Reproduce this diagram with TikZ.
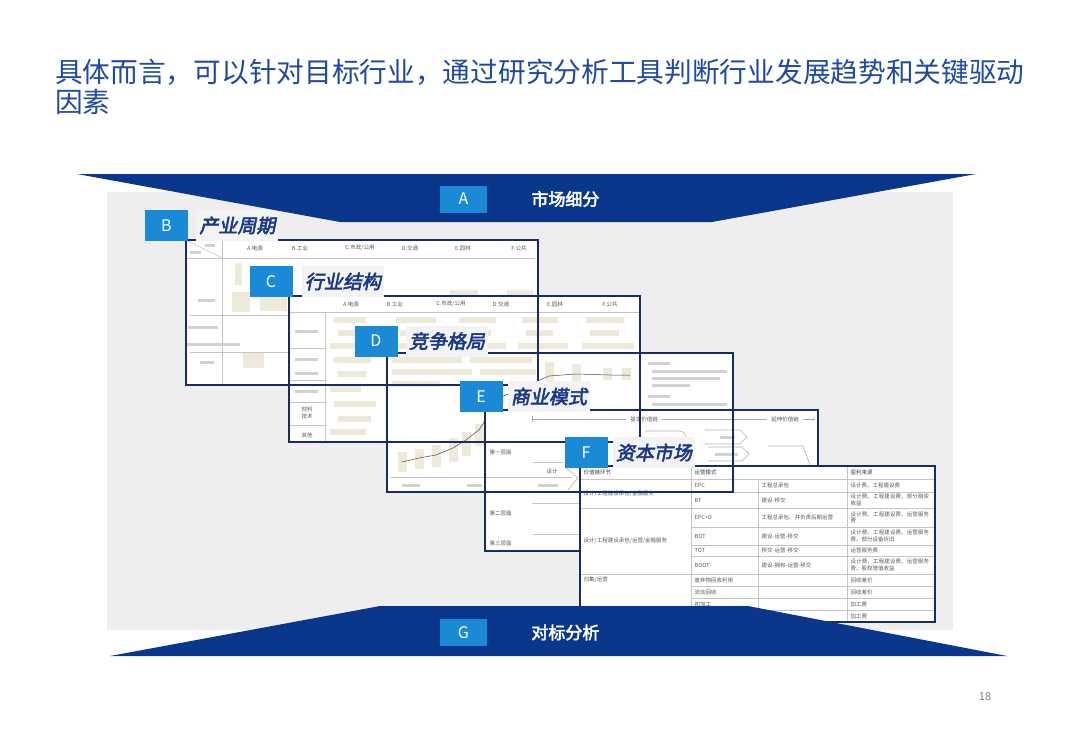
\documentclass[tikz,border=0pt]{standalone}
\usepackage{fontspec}
\setmainfont{Noto Sans CJK SC}[AutoFakeBold=3,AutoFakeSlant=0.2]
\XeTeXlinebreaklocale "zh"
\XeTeXlinebreakskip=0pt plus 1pt
\usetikzlibrary{arrows, shapes, positioning}

\definecolor{bannerblue}{RGB}{10,54,140}
\definecolor{tagblue}{RGB}{26,138,214}
\definecolor{titleblue}{RGB}{32,74,160}
\definecolor{labelblue}{RGB}{26,56,134}
\definecolor{labelbg}{RGB}{243,243,243}
\definecolor{framenavy}{RGB}{24,44,104}
\definecolor{bggray}{RGB}{238,238,238}
\definecolor{beige}{RGB}{238,234,217}
\definecolor{gridgray}{RGB}{196,196,196}

\tikzset{
  titletext/.style={anchor=base west, inner sep=0pt, text=titleblue, font=\fontsize{27.7}{28}\selectfont},
  tagbox/.style={fill=tagblue, text=white, minimum width=43pt, minimum height=31pt, inner sep=0pt, font=\fontsize{16}{16}\selectfont},
  tagtext/.style={fill=labelbg, text=labelblue, minimum height=31pt, inner xsep=3pt, inner ysep=0pt, font=\fontsize{19}{19}\selectfont\bfseries\itshape},
  bannertext/.style={text=white, inner sep=0pt, font=\fontsize{17}{17}\selectfont\bfseries},
  sheet/.style={fill=white},
  sheetframe/.style={draw=framenavy, line width=1.1pt},
  thinrule/.style={draw=gridgray, line width=0.5pt},
  note/.style={fill=beige},
  blob/.style={fill=gray!35},
  smalltxt/.style={text=gray!70!black, inner sep=0.5pt, font=\fontsize{5.5}{6.5}\selectfont},
}

\begin{document}
\begin{tikzpicture}[x=1pt, y=-1pt]
  \useasboundingbox (0,0) rectangle (1080,748);
  \fill[white] (0,0) rectangle (1080,748);

  % Title
  \node[titletext] (title1) at (55,82) {具体而言，可以针对目标行业，通过研究分析工具判断行业发展趋势和关键驱动};
  \node[titletext] (title2) at (55,112) {因素};

  % Backdrop
  \fill[bggray] (107,192) rectangle (953,630);

  % Sheet B
  \fill[sheet] (186,240) rectangle (538,385);
  \draw[thinrule] (186,240) -- (222,258);
  \draw[thinrule] (222,240) -- (222,385);
  \draw[thinrule] (186,258) -- (535,258);
  \draw[thinrule] (190,315) -- (289,315);
  \draw[thinrule] (190,352) -- (289,352);
  \foreach \x/\t [count=\i] in {255/A.电源, 300/B.工业, 360/{C.市政/公用}, 410/D.交通, 463/E.园林, 519/F.公共}
    \node[smalltxt] (bh\i) at (\x,248) {\t};
  \foreach \xa/\ya/\xb/\yb in {205/244/215/247, 190/251/201/254, 198/299/215/302, 188/326/218/329, 186/343/240/346, 200/361/214/364}
    \fill[blob] (\xa,\ya) rectangle (\xb,\yb);
  \foreach \xa/\ya/\xb/\yb in {235/263/242/285, 232/292/250/312, 260/297/287/311, 243/353/264/368, 337/290/373/297, 450/290/478/297, 507/290/533/297}
    \fill[note] (\xa,\ya) rectangle (\xb,\yb);

  % Sheet C
  \fill[sheet] (289,296) rectangle (640,442);
  \draw[thinrule] (289,312) -- (640,312);
  \draw[thinrule] (325,312) -- (325,442);
  \foreach \y in {348,380,402,425} \draw[thinrule] (289,\y) -- (325,\y);
  \foreach \x/\t [count=\i] in {351/A.电源, 395/B.工业, 451/{C.市政/公用}, 501/D.交通, 555/E.园林, 610/F.公共}
    \node[smalltxt] (ch\i) at (\x,304) {\t};
  \foreach \y [count=\r] in {320,333,346,360,374,389,404,419,432}
    \foreach \xa/\xb in {330/376, 392/446, 455/506, 518/568, 582/634}
      \fill[note] ({\xa+mod(\r,3)*4},\y-3) rectangle ({\xb-mod(\r+1,4)*5},\y+3);
  \foreach \y in {330,358,372,390} \fill[blob] (295,\y) rectangle (318,\y+3);
  \node[smalltxt, align=center] (cmat) at (307,413) {材料\\技术};
  \node[smalltxt] (coth) at (307,435) {其他};

  % Sheet D
  \fill[sheet] (387,353) rectangle (733,492);
  \foreach \xa/\ya/\xb/\yb in {392/357/462/363, 470/357/532/363, 392/369/472/375, 480/369/536/375, 392/381/440/387}
    \fill[note] (\xa,\ya) rectangle (\xb,\yb);
  \foreach \x/\y/\h in {398/452/20, 415/449/20, 432/445/22, 449/438/24, 462/432/24, 475/424/22, 495/385/20, 545/362/20, 572/364/22, 603/368/12, 622/368/12}
    \fill[note] (\x,\y) rectangle ++(9,\h);
  \draw[gray!60!black, line width=0.5pt] (402,462) -- (419,458) -- (436,455) -- (453,448) -- (466,440) -- (479,430) -- (499,398) -- (549,376) -- (576,374) -- (610,375) -- (630,375);
  \foreach \xa/\ya/\xb in {648/362/670, 652/370/727, 652/377/720, 652/384/690, 648/395/670, 652/403/727}
    \fill[blob] (\xa,\ya) rectangle (\xb,\ya+3);
  \draw[thinrule] (390,477) -- (485,477);
  \foreach \xa/\xb in {402/420, 467/482} \fill[blob] (\xa,484) rectangle (\xb,487);

  % Sheet E
  \fill[sheet] (485,410) rectangle (818,551);
  \coordinate (chainL) at (532,419);
  \coordinate (chainR) at (815,419);
  \draw[|->, gray!70, line width=0.5pt] (chainL) -- (chainR);
  \node[smalltxt, fill=white, inner xsep=4pt] (basic) at (644,419) {基本价值链};
  \node[smalltxt, fill=white, inner xsep=4pt] (extend) at (785,419) {延伸价值链};
  \node[smalltxt, anchor=west] (lvl1) at (489,452) {第一层面};
  \node[smalltxt, anchor=west] (lvl2) at (489,513) {第二层面};
  \node[smalltxt, anchor=west] (lvl3) at (489,543) {第三层面};
  \draw[thinrule] (533,462) -- (563,462);
  \draw[thinrule] (532,503) -- (580,503);
  \draw[thinrule] (533,534) -- (580,534);
  \draw[thinrule] (485,477) -- (572,477);
  \draw[gray!60, line width=0.6pt] (565,467) -- (578,478) -- (568,490);
  \node[smalltxt] (design) at (552,471) {设计};
  \fill[blob] (538,484) rectangle (558,487);
  \draw[gray!60, line width=0.6pt] (645,431) -- (680,431) to[out=0, in=120] (688,441);
  \draw[gray!60, line width=0.6pt] (705,430) -- (740,430) -- (747,437) -- (740,444) -- (705,444);
  \draw[gray!60, line width=0.6pt] (708,447) -- (742,447) -- (749,454) -- (742,461) -- (708,461);
  \fill[blob] (720,436) rectangle (735,439);
  \fill[blob] (715,453) rectangle (738,456);
  \draw[gray!60, line width=0.6pt] (768,446) -- (803,446) -- (810,465);
  \draw[sheetframe] (485,410) rectangle (818,551);

  % Sheet F
  \fill[sheet] (580,466) rectangle (935,622);
  \foreach \y in {492,527,545,556,586,598,610} \draw[thinrule] (691,\y) -- (935,\y);
  \foreach \y in {479,508,574} \draw[thinrule] (580,\y) -- (935,\y);
  \draw[thinrule] (691,466) -- (691,622);
  \draw[thinrule] (758,479) -- (758,622);
  \draw[thinrule] (847,466) -- (847,622);
  \node[smalltxt, anchor=west, text=black!75] (fh1) at (583,472.5) {价值链环节};
  \node[smalltxt, anchor=west, text=black!75] (fh2) at (694,472.5) {运营模式};
  \node[smalltxt, anchor=west, text=black!75] (fh3) at (850,472.5) {盈利来源};
  \node[smalltxt, anchor=west] (fv1) at (583,493.5) {设计/工程建设承包/金融服务};
  \node[smalltxt, anchor=west, text width=84pt, align=left] (fv2) at (583,541) {设计/工程建设承包/运营/金融服务};
  \node[smalltxt, anchor=west] (fv3) at (583,580) {归集/运营};
  \foreach \y/\t [count=\i] in {485.5/EPC, 500/BT, 517.5/EPC+O, 536/BOT, 550.5/TOT, 565/BOOT, 580/废弃物回收利用, 592/流动回收, 604/初加工}
    \node[smalltxt, anchor=west] (fm\i) at (694,\y) {\t};
  \foreach \y/\t [count=\i] in {485.5/工程总承包, 500/建设-移交, 517.5/工程总承包、并负责后期运营, 536/建设-运营-移交, 550.5/移交-运营-移交, 565/建设-拥有-运营-移交}
    \node[smalltxt, anchor=west] (fo\i) at (761,\y) {\t};
  \foreach \y/\t [count=\i] in {485.5/设计费、工程建设费, 500/设计费、工程建设费、部分融资收益, 517.5/设计费、工程建设费、运营服务费, 536/设计费、工程建设费、运营服务费、部分设备折旧, 550.5/运营服务费, 565/设计费、工程建设费、运营服务费、股权增值收益, 580/回收差价, 592/回收差价, 604/加工费, 616/加工费}
    \node[smalltxt, anchor=west, text width=80pt, align=left] (fp\i) at (850,\y) {\t};

  % Frames
  \draw[sheetframe] (186,240) rectangle (538,385);
  \draw[sheetframe] (289,296) rectangle (640,442);
  \draw[sheetframe] (387,353) rectangle (733,492);
  \draw[sheetframe] (580,466) rectangle (935,622);

  % Tags
  \node[tagbox] (tagB) at (166.5,225.5) {B};
  \node[tagtext, right=8pt of tagB] (txtB) {产业周期};
  \node[tagbox] (tagC) at (271,281.5) {C};
  \node[tagtext, right=9pt of tagC] (txtC) {行业结构};
  \node[tagbox] (tagD) at (376,341) {D};
  \node[tagtext, right=8pt of tagD] (txtD) {竞争格局};
  \node[tagbox] (tagE) at (481,396.5) {E};
  \node[tagtext, right=5pt of tagE] (txtE) {商业模式};
  \node[tagbox] (tagF) at (586,452.5) {F};
  \node[tagtext, right=5pt of tagF] (txtF) {资本市场};

  % Banners
  \fill[bannerblue] (77,174) -- (976,174) -- (712,222) -- (340,222) -- cycle;
  \fill[bannerblue] (380,606) -- (748,606) -- (1007,656) -- (110,656) -- cycle;
  \node[tagbox, minimum height=27pt, minimum width=47pt] (tagA) at (463.5,199) {A};
  \node[bannertext, right=44pt of tagA] (txtA) {市场细分};
  \node[tagbox, minimum height=27pt, minimum width=47pt] (tagG) at (463.5,632.5) {G};
  \node[bannertext, right=44pt of tagG] (txtG) {对标分析};

  % Page number
  \node[text=gray, font=\fontsize{11}{11}\selectfont] (pageno) at (985,697) {18};
\end{tikzpicture}
\end{document}
